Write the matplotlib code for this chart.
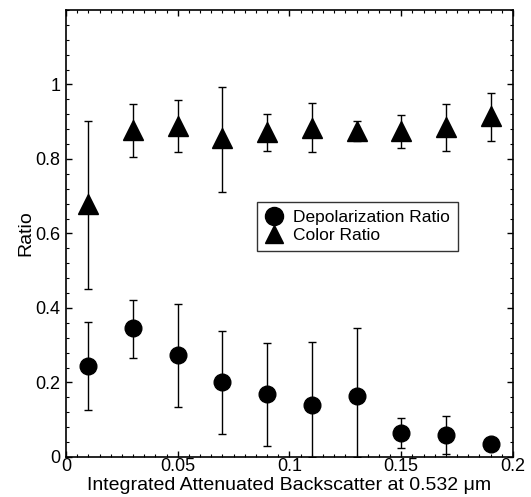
import matplotlib
matplotlib.use('Agg')
import matplotlib.pyplot as plt
from matplotlib.ticker import MultipleLocator, FixedFormatter, FixedLocator

plt.rcParams['font.family'] = ['Liberation Sans', 'DejaVu Sans']

x = [0.01, 0.03, 0.05, 0.07, 0.09, 0.11, 0.13, 0.15, 0.17, 0.19]

# depolarization ratio: value, lower end, upper end
depol = [0.245, 0.345, 0.275, 0.200, 0.168, 0.140, 0.165, 0.065, 0.058, 0.036]
depol_lo = [0.127, 0.265, 0.135, 0.063, 0.030, 0.000, 0.000, 0.023, 0.008, 0.036]
depol_hi = [0.362, 0.422, 0.411, 0.338, 0.306, 0.310, 0.345, 0.106, 0.110, 0.036]

# color ratio
color = [0.680, 0.878, 0.889, 0.856, 0.873, 0.884, 0.875, 0.874, 0.885, 0.915]
color_lo = [0.451, 0.806, 0.820, 0.712, 0.821, 0.820, 0.847, 0.830, 0.822, 0.848]
color_hi = [0.902, 0.948, 0.957, 0.994, 0.922, 0.950, 0.903, 0.918, 0.948, 0.978]

fig = plt.figure(figsize=(5.31, 4.97), dpi=100)
ax = fig.add_axes([0.1243, 0.0805, 0.8417, 0.8995])

d_err = [[v - lo for v, lo in zip(depol, depol_lo)],
         [hi - v for v, hi in zip(depol, depol_hi)]]
c_err = [[v - lo for v, lo in zip(color, color_lo)],
         [hi - v for v, hi in zip(color, color_hi)]]

ax.errorbar(x, depol, yerr=d_err, fmt='o', color='black', ms=12,
            ecolor='black', elinewidth=1.0, capsize=2.8, capthick=1.0,
            label='Depolarization Ratio')
ax.errorbar(x, color, yerr=c_err, fmt='^', color='black', ms=14,
            ecolor='black', elinewidth=1.0, capsize=2.8, capthick=1.0,
            label='Color Ratio')

ax.set_xlim(0, 0.2)
ax.set_ylim(0, 1.2)
ax.xaxis.set_major_locator(FixedLocator([0, 0.05, 0.1, 0.15, 0.2]))
ax.xaxis.set_major_formatter(FixedFormatter(['0', '0.05', '0.1', '0.15', '0.2']))
ax.xaxis.set_minor_locator(MultipleLocator(0.005))
ax.yaxis.set_major_locator(FixedLocator([0, 0.2, 0.4, 0.6, 0.8, 1.0]))
ax.yaxis.set_major_formatter(FixedFormatter(['0', '0.2', '0.4', '0.6', '0.8', '1']))
ax.yaxis.set_minor_locator(MultipleLocator(0.04))
ax.tick_params(which='both', direction='in', top=True, right=True, labelsize=13)
ax.tick_params(which='major', length=4, width=1)
ax.tick_params(axis='x', which='major', pad=1)
ax.tick_params(axis='y', which='major', pad=4)
ax.tick_params(which='minor', length=2, width=0.8)
for s in ax.spines.values():
    s.set_linewidth(1.2)

ax.set_xlabel('Integrated Attenuated Backscatter at 0.532 \u03bcm', fontsize=14, labelpad=1)
ax.set_ylabel('Ratio', fontsize=14, labelpad=1)

handles, labels = ax.get_legend_handles_labels()
handles = [h[0] for h in handles]
leg = ax.legend(handles, labels, loc='upper left', bbox_to_anchor=(0.428, 0.571),
                fontsize=12.5, frameon=True, fancybox=False, edgecolor='black',
                handlelength=1.0, handletextpad=0.6, borderpad=0.45,
                labelspacing=0.2, borderaxespad=0)
leg.get_frame().set_linewidth(1.0)
for h in leg.legend_handles:
    h.set_markersize(13)

fig.savefig('out.png', dpi=100)
